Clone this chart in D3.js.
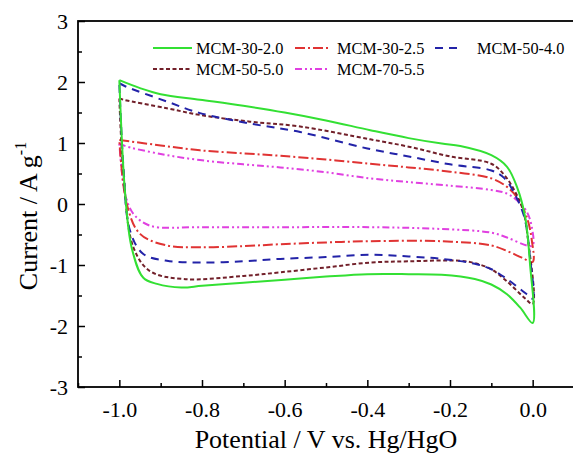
<!DOCTYPE html>
<html>
<head>
<meta charset="utf-8">
<script src="https://d3js.org/d3.v7.min.js"></script>
<style>
  html, body { margin: 0; padding: 0; background: #fff; }
  svg { display: block; }
  text { font-family: "Liberation Serif", "Times New Roman", serif; fill: #000; }
</style>
</head>
<body>
<svg id="chart" width="573" height="453"></svg>
<script>
// CV curves, [potential (V), current (A/g)], upper branch -1 -> 0, then lower branch back to -1
const mcm30_20 = [
  [-1.0, 2.03], [-0.95, 1.90], [-0.9, 1.80], [-0.805, 1.71], [-0.7, 1.61], [-0.6, 1.50],
  [-0.5, 1.37], [-0.393, 1.21], [-0.3, 1.08], [-0.22, 0.99], [-0.175, 0.95], [-0.1, 0.80],
  [-0.062, 0.61], [-0.038, 0.28], [-0.018, -0.22], [-0.0065, -0.98], [0, -1.95],
  [-0.03, -1.70], [-0.062, -1.48], [-0.1, -1.32], [-0.14, -1.23], [-0.22, -1.16],
  [-0.3, -1.15], [-0.4, -1.15], [-0.5, -1.19], [-0.6, -1.24], [-0.7, -1.29], [-0.8, -1.34],
  [-0.85, -1.37], [-0.909, -1.31], [-0.942, -1.21], [-0.970, -0.72], [-0.986, 0.17], [-1.0, 2.03]
];
const mcm30_25 = [
  [-1.0, 1.05], [-0.9, 0.96], [-0.805, 0.88], [-0.7, 0.83], [-0.611, 0.79], [-0.5, 0.73],
  [-0.393, 0.66], [-0.3, 0.60], [-0.2, 0.53], [-0.1, 0.42], [-0.062, 0.28], [-0.038, 0.11],
  [-0.014, -0.22], [-0.002, -0.60], [0, -0.95],
  [-0.026, -0.88], [-0.062, -0.77], [-0.1, -0.68], [-0.22, -0.61], [-0.393, -0.61],
  [-0.5, -0.63], [-0.611, -0.66], [-0.7, -0.69], [-0.805, -0.71], [-0.885, -0.68],
  [-0.95, -0.49], [-0.982, 0.0], [-1.0, 1.05]
];
const mcm50_40 = [
  [-1.0, 1.98], [-0.986, 1.93], [-0.885, 1.68], [-0.805, 1.49], [-0.684, 1.32], [-0.5625, 1.18],
  [-0.4, 0.91], [-0.3, 0.78], [-0.2, 0.65], [-0.1, 0.55], [-0.068, 0.42], [-0.044, 0.17],
  [-0.02, -0.22], [-0.0065, -0.88], [0, -1.55],
  [-0.014, -1.48], [-0.062, -1.23], [-0.1, -1.07], [-0.14, -0.98], [-0.22, -0.90],
  [-0.3, -0.86], [-0.393, -0.83], [-0.5, -0.87], [-0.611, -0.90], [-0.7, -0.94],
  [-0.805, -0.96], [-0.885, -0.93], [-0.942, -0.82], [-0.974, -0.44], [-0.99, 0.60], [-1.0, 1.98]
];
const mcm50_50 = [
  [-1.0, 1.73], [-0.99, 1.71], [-0.885, 1.57], [-0.805, 1.46], [-0.684, 1.35], [-0.5625, 1.27],
  [-0.393, 1.06], [-0.3, 0.94], [-0.2, 0.78], [-0.1, 0.66], [-0.068, 0.47], [-0.044, 0.22],
  [-0.023, -0.11], [-0.011, -0.60], [0, -1.64],
  [-0.018, -1.55], [-0.062, -1.27], [-0.1, -1.07], [-0.14, -0.97], [-0.175, -0.93],
  [-0.3, -0.94], [-0.393, -0.96], [-0.5, -1.04], [-0.611, -1.12], [-0.7, -1.18],
  [-0.845, -1.23], [-0.926, -1.10], [-0.966, -0.71], [-0.99, 0.50], [-1.0, 1.73]
];
const mcm70_55 = [
  [-1.0, 1.00], [-0.99, 0.96], [-0.9, 0.82], [-0.805, 0.72], [-0.7, 0.65], [-0.611, 0.60],
  [-0.5, 0.52], [-0.393, 0.42], [-0.3, 0.36], [-0.2, 0.30], [-0.1, 0.23], [-0.062, 0.17],
  [-0.038, 0.06], [-0.014, -0.13], [-0.002, -0.38], [0, -0.68],
  [-0.014, -0.68], [-0.062, -0.55], [-0.1, -0.47], [-0.22, -0.41], [-0.393, -0.38],
  [-0.611, -0.38], [-0.805, -0.38], [-0.926, -0.355], [-0.966, -0.16], [-0.986, 0.17], [-1.0, 1.00]
];

const seriesNames = ['MCM-30-2.0', 'MCM-30-2.5', 'MCM-50-4.0', 'MCM-50-5.0', 'MCM-70-5.5'];
const seriesData = [mcm30_20, mcm30_25, mcm50_40, mcm50_50, mcm70_55];
const seriesColors = ['#33e033', '#e03333', '#2323a8', '#72202a', '#e040e0'];
const seriesDash = [null, '10,3,2,3', '8,6', '4,2.5', '7,3,2,3,2,3'];

const xMajorTicks = [-1.0, -0.8, -0.6, -0.4, -0.2, 0.0];
const xMinorTicks = [-1.1, -0.9, -0.7, -0.5, -0.3, -0.1, 0.1];
const yMajorTicks = [-3, -2, -1, 0, 1, 2, 3];
const yMinorTicks = [-2.5, -1.5, -0.5, 0.5, 1.5, 2.5];

const svg = d3.select('#chart');
const plotLeft = 78, plotRight = 574, plotTop = 21, plotBottom = 387;

const x = d3.scaleLinear().domain([-1.1, 0.1]).range([plotLeft, plotRight]);
const y = d3.scaleLinear().domain([-3, 3]).range([plotBottom, plotTop]);

// Curves
const line = d3.line()
    .x(d => x(d[0]))
    .y(d => y(d[1]))
    .curve(d3.curveCatmullRom.alpha(0.5));

const drawOrder = [4, 1, 3, 2, 0];
svg.append('g')
    .selectAll('path')
    .data(drawOrder)
    .join('path')
    .attr('d', i => line(seriesData[i]))
    .attr('fill', 'none')
    .attr('stroke', i => seriesColors[i])
    .attr('stroke-width', 2)
    .attr('stroke-dasharray', i => seriesDash[i])
    .attr('stroke-linejoin', 'round');

// Axes, ticks pointing inward
const fmtX = d3.format('.1f');
svg.append('g')
    .attr('transform', `translate(0,${plotBottom})`)
    .call(d3.axisBottom(x).tickValues(xMajorTicks).tickSize(-7).tickPadding(14)
        .tickFormat(d => fmtX(d).replace('−', '-')));
svg.append('g')
    .attr('transform', `translate(0,${plotBottom})`)
    .call(d3.axisBottom(x).tickValues(xMinorTicks).tickSize(-4).tickFormat(''));

svg.append('g')
    .attr('transform', `translate(${plotLeft},0)`)
    .call(d3.axisLeft(y).tickValues(yMajorTicks).tickSize(-7).tickPadding(10)
        .tickFormat(d => String(d)));
svg.append('g')
    .attr('transform', `translate(${plotLeft},0)`)
    .call(d3.axisLeft(y).tickValues(yMinorTicks).tickSize(-4).tickFormat(''));

svg.selectAll('.domain').remove();
svg.selectAll('.tick line').attr('stroke', '#000').attr('stroke-width', 1.5);
svg.selectAll('.tick text').attr('font-size', 22)
    .attr('font-family', '"Liberation Serif", serif').attr('fill', '#000');

// Frame
svg.append('rect')
    .attr('x', plotLeft).attr('y', plotTop)
    .attr('width', plotRight - plotLeft).attr('height', plotBottom - plotTop)
    .attr('fill', 'none')
    .attr('stroke', '#000')
    .attr('stroke-width', 1.8);

// Axis titles
svg.append('text')
    .attr('x', (plotLeft + plotRight) / 2)
    .attr('y', 448)
    .attr('text-anchor', 'middle')
    .attr('font-size', 26)
    .text('Potential / V vs. Hg/HgO');

const yTitle = svg.append('text')
    .attr('transform', 'translate(37,216) rotate(-90)')
    .attr('text-anchor', 'middle')
    .attr('font-size', 26);
yTitle.append('tspan').text('Current / A g');
yTitle.append('tspan').attr('dy', -11).attr('font-size', 16).text('-1');

// Legend
const legendPos = [[153, 48], [295, 48], [435, 48], [153, 69], [295, 69]];
const legendLen = [39, 33, 28, 39, 33];
const legendTextX = [196, 337, 477, 196, 337];
const legend = svg.append('g')
    .selectAll('g')
    .data(seriesNames.map((n, i) => i))
    .join('g');
legend.append('line')
    .attr('x1', i => legendPos[i][0])
    .attr('x2', i => legendPos[i][0] + legendLen[i])
    .attr('y1', i => legendPos[i][1])
    .attr('y2', i => legendPos[i][1])
    .attr('stroke', i => seriesColors[i])
    .attr('stroke-width', 2)
    .attr('stroke-dasharray', i => seriesDash[i]);
legend.append('text')
    .attr('x', i => legendTextX[i])
    .attr('y', i => legendPos[i][1])
    .attr('dy', '0.35em')
    .attr('font-size', 16.3)
    .text(i => seriesNames[i]);
</script>
</body>
</html>
